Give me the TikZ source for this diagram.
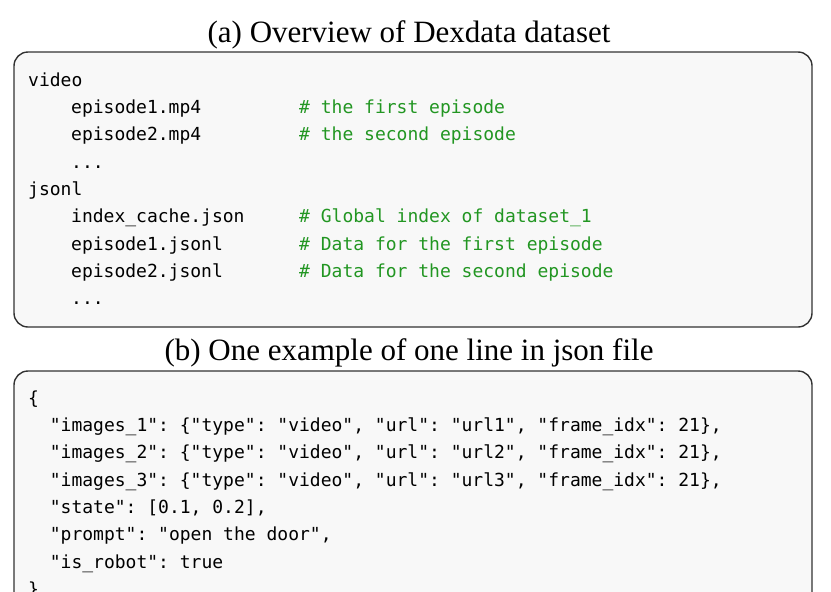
\documentclass[tikz,border=0pt]{standalone}
\usepackage{fontspec}
\setmainfont{Liberation Serif}
\setmonofont{DejaVu Sans Mono}
\definecolor{cmtgreen}{RGB}{34,150,34}
\definecolor{boxfill}{RGB}{248,248,248}
\definecolor{boxline}{RGB}{50,50,50}
\begin{document}
\begin{tikzpicture}[x=1pt,y=-1pt,
  codebox/.style={draw=boxline,line width=1.4pt,fill=boxfill,rounded corners=14pt},
  code/.style={inner sep=0pt,anchor=base west,font=\ttfamily\fontsize{18}{20}\selectfont,text=black},
  cmt/.style={code,text=cmtgreen},
  ttl/.style={inner sep=0pt,anchor=base,font=\fontsize{31}{34}\selectfont}]
\useasboundingbox (0,0) rectangle (831,592);
\clip (0,0) rectangle (831,592);
% titles
\node[ttl] (ta) at (409,42) {(a) Overview of Dexdata dataset};
\node[ttl] (tb) at (409,360) {(b) One example of one line in json file};
% boxes
\draw[codebox] (14,52) rectangle (812,327);
\draw[codebox] (14,371) rectangle (812,640);
% box a
\node[code] (a1) at (28,86) {video};
\node[code] (a2) at (71,113) {episode1.mp4};
\node[cmt] (c2) at (299,113) {\# the first episode};
\node[code] (a3) at (71,140.5) {episode2.mp4};
\node[cmt] (c3) at (299,140.5) {\# the second episode};
\node[code] (a4) at (71,168) {...};
\node[code] (a5) at (28,195) {jsonl};
\node[code] (a6) at (71,222.5) {index\_cache.json};
\node[cmt] (c6) at (299,222.5) {\# Global index of dataset\_1};
\node[code] (a7) at (71,250) {episode1.jsonl};
\node[cmt] (c7) at (299,250) {\# Data for the first episode};
\node[code] (a8) at (71,277) {episode2.jsonl};
\node[cmt] (c8) at (299,277) {\# Data for the second episode};
\node[code] (a9) at (71,304.5) {...};
% box b
\node[code] (b0) at (28,404) {\{};
\node[code] (b1) at (28,431.5) {\ \ "images\_1": \{"type": "video", "url": "url1", "frame\_idx": 21\},};
\node[code] (b2) at (28,458.8) {\ \ "images\_2": \{"type": "video", "url": "url2", "frame\_idx": 21\},};
\node[code] (b3) at (28,486.1) {\ \ "images\_3": \{"type": "video", "url": "url3", "frame\_idx": 21\},};
\node[code] (b4) at (28,513.4) {\ \ "state": [0.1, 0.2],};
\node[code] (b5) at (28,540.7) {\ \ "prompt": "open the door",};
\node[code] (b6) at (28,568) {\ \ "is\_robot": true};
\node[code] (b7) at (28,595.3) {\}};
\end{tikzpicture}
\end{document}
